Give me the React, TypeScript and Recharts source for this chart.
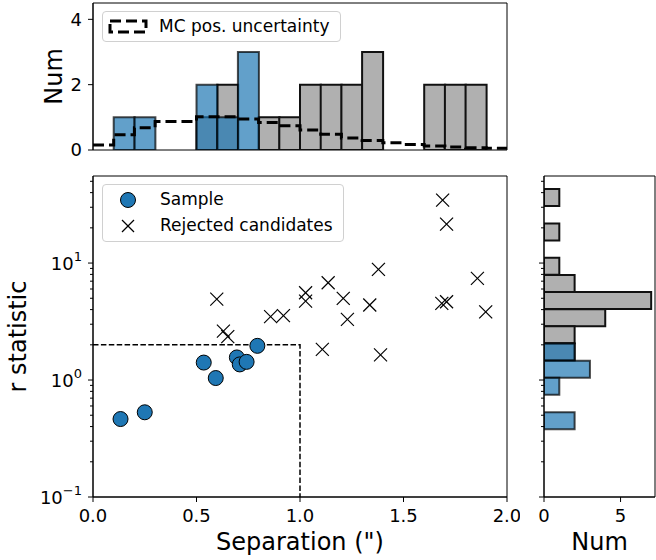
import React from 'react';
import {
  ComposedChart,
  BarChart,
  ScatterChart,
  Bar,
  Line,
  Scatter,
  XAxis,
  YAxis,
  ReferenceArea,
  Legend,
  Label,
} from 'recharts';

// ---------------- data ----------------
// separation histogram (bins of 0.1 arcsec), bin centers
const sepBinCenters = [0.05, 0.15, 0.25, 0.35, 0.45, 0.55, 0.65, 0.75, 0.85, 0.95, 1.05, 1.15, 1.25, 1.35, 1.45, 1.55, 1.65, 1.75, 1.85, 1.95];
const sepRejectedCounts = [0, 0, 0, 0, 0, 1, 2, 0, 1, 1, 2, 2, 2, 3, 0, 0, 2, 2, 2, 0];
const sepSampleCounts = [0, 1, 1, 0, 0, 2, 1, 3, 0, 0, 0, 0, 0, 0, 0, 0, 0, 0, 0, 0];

// MC positional-uncertainty step histogram
const mcBinEdges = [0, 0.1, 0.2, 0.3, 0.4, 0.5, 0.6, 0.7, 0.8, 0.9, 1.0, 1.1, 1.2, 1.3, 1.4, 1.5, 1.6, 1.7, 1.8, 1.9, 2.0];
const mcValues = [0.15, 0.47, 0.68, 0.87, 0.87, 1.02, 1.02, 0.95, 0.84, 0.74, 0.61, 0.48, 0.37, 0.29, 0.22, 0.17, 0.12, 0.09, 0.07, 0.05];

// r-statistic histogram (log bins), geometric bin centers
const rBinCenters = [36.24, 25.85, 18.45, 13.16, 9.385, 6.695, 4.775, 3.406, 2.43, 1.734, 1.237, 0.882, 0.629, 0.449];
const rRejectedCounts = [1, 0, 1, 0, 1, 2, 7, 4, 2, 2, 0, 0, 0, 0];
const rSampleCounts = [0, 0, 0, 0, 0, 0, 0, 0, 0, 2, 3, 1, 0, 2];

// scatter points
const sampleSep = [0.133, 0.25, 0.535, 0.593, 0.695, 0.709, 0.742, 0.794];
const sampleR = [0.464, 0.53, 1.41, 1.04, 1.56, 1.36, 1.43, 1.96];
const rejectedSep = [1.689, 1.708, 1.379, 1.857, 1.136, 1.027, 1.027, 0.598, 1.209, 1.337, 1.685, 1.708, 1.897, 1.229, 0.858, 0.92, 0.63, 0.651, 1.108, 1.389];
const rejectedR = [34.5, 21.5, 8.84, 7.4, 6.79, 5.57, 4.73, 4.92, 4.99, 4.38, 4.52, 4.67, 3.83, 3.3, 3.48, 3.55, 2.62, 2.35, 1.83, 1.64];

// selection cut (dashed box)
const cutSep = [0, 1, 1];
const cutR = [2, 2, 0.1];

// axes
const sepDomain = [0, 2];
const sepTicks = [0, 0.5, 1, 1.5, 2];
const rDomain = [0.1, 55.5];
const rTicks = [0.1, 0.2, 0.3, 0.4, 0.5, 0.6, 0.7, 0.8, 0.9, 1, 2, 3, 4, 5, 6, 7, 8, 9, 10, 20, 30, 40, 50];
const topNumDomain = [0, 4.5];
const topNumTicks = [0, 2, 4];
const rightNumDomain = [0, 7.25];
const rightNumTicks = [0, 5];

// ---------------- tables ----------------
const sepRows = sepBinCenters.map((c, i) => ({
  sep: c,
  rejected: sepRejectedCounts[i] || null,
  sample: sepSampleCounts[i] || null,
}));
const mcRows = mcBinEdges.map((e, i) => ({ sep: e, mc: mcValues[Math.min(i, mcValues.length - 1)] }));
const rRows = rBinCenters.map((c, i) => ({
  r: c,
  rejected: rRejectedCounts[i] || null,
  sample: rSampleCounts[i] || null,
}));
const sampleRows = sampleSep.map((s, i) => ({ sep: s, r: sampleR[i] }));
const rejectedRows = rejectedSep.map((s, i) => ({ sep: s, r: rejectedR[i] }));
const cutRows = cutSep.map((s, i) => ({ sep: s, r: cutR[i] }));

// ---------------- style ----------------
const BLUE = '#1f77b4';
const GRAY = '#b0b0b0';
const FONT = 'DejaVu Sans, sans-serif';
const TICK_FONT = 18;
const LABEL_FONT = 24;
const LEGEND_FONT = 17;
const MAJOR = 5;
const MINOR = 3;
const tickStyle = { fontSize: TICK_FONT, fill: '#000' };

const makeLogTick = (showLabels: boolean, margin: number) => (props: any) => {
  const { x, y, payload } = props;
  const v = payload.value as number;
  const lg = Math.log10(v);
  const exp = Math.round(lg);
  const major = Math.abs(lg - exp) < 1e-6;
  const axisX = x + MAJOR + margin;
  const len = major ? MAJOR : MINOR;
  return (
    <g>
      <line x1={axisX - len} x2={axisX} y1={y} y2={y} stroke="#000" strokeWidth={1} />
      {showLabels && major ? (
        <text x={axisX - MAJOR - margin} y={y + 6.5} textAnchor="end" fontSize={TICK_FONT} fill="#000" fontFamily={FONT}>
          10
          <tspan dy={-8.5} fontSize={13}>
            {exp < 0 ? `\u2212${-exp}` : `${exp}`}
          </tspan>
        </text>
      ) : null}
    </g>
  );
};

const vLabel = (text: string, baselineX: number) => (props: any) => {
  const vb = props.viewBox || {};
  const cy = vb.y + vb.height / 2;
  return (
    <text
      x={baselineX}
      y={cy}
      transform={`rotate(-90 ${baselineX} ${cy})`}
      textAnchor="middle"
      fontSize={LABEL_FONT}
      fill="#000"
      fontFamily={FONT}
    >
      {text}
    </text>
  );
};

const SampleDot = (p: any) => (
  <circle cx={p.cx} cy={p.cy} r={7.5} fill={BLUE} stroke="#000" strokeWidth={1} />
);
const RejectedCross = (p: any) => {
  const s = 6.5;
  return (
    <g stroke="#000" strokeWidth={1.2}>
      <line x1={p.cx - s} y1={p.cy - s} x2={p.cx + s} y2={p.cy + s} />
      <line x1={p.cx - s} y1={p.cy + s} x2={p.cx + s} y2={p.cy - s} />
    </g>
  );
};
const NoDot = () => <g />;

const legendBox: React.CSSProperties = {
  position: 'relative',
  boxSizing: 'border-box',
  border: '1px solid #d0d0d0',
  borderRadius: 4,
  background: 'rgba(255,255,255,0.8)',
  fontSize: LEGEND_FONT,
  fontFamily: FONT,
  color: '#000',
};

const McLegend = () => (
  <div style={{ ...legendBox, width: 239, height: 31 }}>
    <svg width={44} height={20} style={{ position: 'absolute', left: 3, top: 5 }}>
      <rect x={4} y={4} width={36} height={11} fill="none" stroke="#000" strokeWidth={3} strokeDasharray="11 5" />
    </svg>
    <span style={{ position: 'absolute', left: 56, top: 4, lineHeight: '20px', whiteSpace: 'nowrap' }}>MC pos. uncertainty</span>
  </div>
);

const ScatterLegend = () => (
  <div style={{ ...legendBox, width: 242, height: 58 }}>
    <svg width={30} height={58} style={{ position: 'absolute', left: 10, top: 0 }}>
      <circle cx={15} cy={15} r={7.5} fill={BLUE} stroke="#000" strokeWidth={1} />
      <g stroke="#000" strokeWidth={1.2}>
        <line x1={9} y1={35} x2={21} y2={47} />
        <line x1={9} y1={47} x2={21} y2={35} />
      </g>
    </svg>
    <span style={{ position: 'absolute', left: 57, top: 4, lineHeight: '20px', whiteSpace: 'nowrap' }}>Sample</span>
    <span style={{ position: 'absolute', left: 57, top: 30, lineHeight: '20px', whiteSpace: 'nowrap' }}>Rejected candidates</span>
  </div>
);

export default function App() {
  return (
    <div style={{ position: 'absolute', left: 0, top: 0, width: 656, height: 560, background: '#fff', fontFamily: FONT }}>
      {/* top histogram */}
      <div style={{ position: 'absolute', left: 0, top: 0 }}>
        <ComposedChart width={520} height={170} data={sepRows} margin={{ top: 3, right: 13, bottom: 0, left: 0 }} barCategoryGap={0} barGap={0}>
          <XAxis
            xAxisId="rej"
            dataKey="sep"
            type="number"
            domain={sepDomain}
            ticks={sepTicks}
            interval={0}
            tick={false}
            tickSize={MAJOR}
            height={20}
            stroke="#000"
            tickLine={{ stroke: '#000' }}
          />
          <XAxis xAxisId="smp" dataKey="sep" type="number" domain={sepDomain} hide />
          <XAxis xAxisId="mc" dataKey="sep" type="number" domain={sepDomain} hide />
          <YAxis
            type="number"
            domain={topNumDomain}
            ticks={topNumTicks}
            interval={0}
            width={93}
            tickSize={MAJOR}
            tickMargin={6}
            tick={tickStyle}
            stroke="#000"
            allowDataOverflow
          >
            <Label content={vLabel('Num', 62)} />
          </YAxis>
          <ReferenceArea xAxisId="rej" x1={sepDomain[0]} x2={sepDomain[1]} y1={topNumDomain[0]} y2={topNumDomain[1]} fill="none" stroke="#000" strokeWidth={1} />
          <Bar xAxisId="rej" dataKey="rejected" fill={GRAY} stroke="#111" strokeWidth={2} isAnimationActive={false} />
          <Bar xAxisId="smp" dataKey="sample" fill={BLUE} fillOpacity={0.7} stroke="#000" strokeOpacity={0.7} strokeWidth={2} isAnimationActive={false} />
          <Line
            xAxisId="mc"
            data={mcRows}
            dataKey="mc"
            type="stepAfter"
            stroke="#000"
            strokeWidth={3}
            strokeDasharray="11 5"
            dot={false}
            activeDot={false}
            isAnimationActive={false}
          />
          <Legend layout="vertical" align="center" verticalAlign="middle" wrapperStyle={{ left: 102, top: 11, width: 'auto' }} content={() => <McLegend />} />
        </ComposedChart>
      </div>

      {/* main scatter */}
      <div style={{ position: 'absolute', left: 0, top: 160 }}>
        <ScatterChart width={520} height={400} margin={{ top: 16, right: 13, bottom: 0, left: 0 }}>
          <XAxis
            dataKey="sep"
            type="number"
            domain={sepDomain}
            ticks={sepTicks}
            interval={0}
            tickFormatter={(v: number) => v.toFixed(1)}
            tickSize={MAJOR}
            tickMargin={7}
            tick={tickStyle}
            height={63}
            stroke="#000"
            allowDataOverflow
          >
            <Label value={'Separation (")'} position="insideBottom" offset={10} fontSize={LABEL_FONT} fill="#000" />
          </XAxis>
          <YAxis
            dataKey="r"
            type="number"
            scale="log"
            domain={rDomain}
            ticks={rTicks}
            interval={0}
            width={93}
            tickSize={MAJOR}
            tickMargin={6}
            tickLine={false}
            tick={makeLogTick(true, 6)}
            stroke="#000"
            allowDataOverflow
          >
            <Label content={vLabel('r statistic', 26)} />
          </YAxis>
          <ReferenceArea x1={sepDomain[0]} x2={sepDomain[1]} y1={rDomain[0]} y2={rDomain[1]} fill="none" stroke="#000" strokeWidth={1} />
          <Scatter
            data={cutRows}
            line={{ stroke: '#000', strokeWidth: 1.5, strokeDasharray: '5.5 2.4' }}
            lineType="joint"
            shape={NoDot}
            legendType="none"
            isAnimationActive={false}
          />
          <Scatter data={sampleRows} shape={SampleDot} isAnimationActive={false} />
          <Scatter data={rejectedRows} shape={RejectedCross} isAnimationActive={false} />
          <Legend layout="vertical" align="center" verticalAlign="middle" wrapperStyle={{ left: 102, top: 24, width: 'auto' }} content={() => <ScatterLegend />} />
        </ScatterChart>
      </div>

      {/* right histogram */}
      <div style={{ position: 'absolute', left: 520, top: 160 }}>
        <BarChart width={136} height={400} layout="vertical" data={rRows} margin={{ top: 16, right: 1, bottom: 0, left: 0 }} barCategoryGap={0} barGap={0}>
          <XAxis
            type="number"
            domain={rightNumDomain}
            ticks={rightNumTicks}
            interval={0}
            tickSize={MAJOR}
            tickMargin={7}
            tick={tickStyle}
            height={63}
            stroke="#000"
            allowDataOverflow
          >
            <Label value="Num" position="insideBottom" offset={10} fontSize={LABEL_FONT} fill="#000" />
          </XAxis>
          <YAxis
            yAxisId="rej"
            dataKey="r"
            type="number"
            scale="log"
            domain={rDomain}
            ticks={rTicks}
            interval={0}
            width={24}
            tickSize={MAJOR}
            tickMargin={0}
            tickLine={false}
            tick={makeLogTick(false, 0)}
            stroke="#000"
            reversed
            allowDataOverflow
          />
          <YAxis yAxisId="smp" dataKey="r" type="number" scale="log" domain={rDomain} hide reversed allowDataOverflow />
          <ReferenceArea yAxisId="rej" x1={rightNumDomain[0]} x2={rightNumDomain[1]} y1={rDomain[0]} y2={rDomain[1]} fill="none" stroke="#000" strokeWidth={1} />
          <Bar yAxisId="rej" dataKey="rejected" fill={GRAY} stroke="#111" strokeWidth={2} isAnimationActive={false} />
          <Bar yAxisId="smp" dataKey="sample" fill={BLUE} fillOpacity={0.7} stroke="#000" strokeOpacity={0.7} strokeWidth={2} isAnimationActive={false} />
        </BarChart>
      </div>
    </div>
  );
}
